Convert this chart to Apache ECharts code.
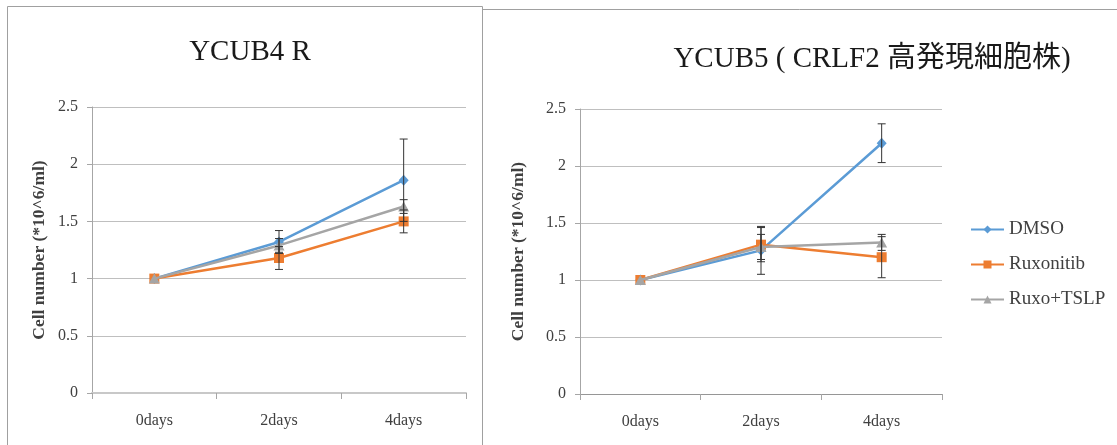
<!DOCTYPE html>
<html>
<head>
<meta charset="utf-8">
<script src="https://cdn.jsdelivr.net/npm/echarts@6/dist/echarts.min.js"></script>
<style>
html,body{margin:0;padding:0;background:#fff;}
#c{width:1117px;height:445px;}
</style>
</head>
<body>
<div id="c"></div>
<script>
const categories = ['0days', '2days', '4days'];
const seriesNames = ['DMSO', 'Ruxonitib', 'Ruxo+TSLP'];
const yTickLabels = ['0', '0.5', '1', '1.5', '2', '2.5'];

const leftDMSO = [1, 1.32, 1.86];
const leftDMSOErr = [0, 0.10, 0.36];
const leftRux = [1, 1.18, 1.50];
const leftRuxErr = [0, 0.10, 0.10];
const leftTSLP = [1, 1.29, 1.63];
const leftTSLPErr = [0, 0.06, 0.06];

const rightDMSO = [1, 1.26, 2.20];
const rightDMSOErr = [0, 0.21, 0.17];
const rightRux = [1, 1.31, 1.20];
const rightRuxErr = [0, 0.15, 0.18];
const rightTSLP = [1, 1.29, 1.33];
const rightTSLPErr = [0, 0.11, 0.07];

const colors = ['#5B9BD5', '#ED7D31', '#A5A5A5'];
const symbols = ['diamond', 'rect', 'triangle'];
const symbolSizes = [[10, 11], 10, [11, 10]];
const serif = "'Liberation Serif', 'DejaVu Serif', serif";
const titleFont = "'Liberation Serif', 'Noto Sans CJK JP', serif";

function errData(vals, errs) {
  const out = [];
  vals.forEach((v, i) => { if (errs[i] > 0) out.push([i, v - errs[i], v + errs[i]]); });
  return out;
}
function errRender(params, api) {
  const x = api.value(0);
  const lo = api.coord([x, api.value(1)]);
  const hi = api.coord([x, api.value(2)]);
  const w = 4;
  const st = { stroke: '#333', lineWidth: 1 };
  return {
    type: 'group',
    children: [
      { type: 'line', shape: { x1: hi[0], y1: hi[1], x2: lo[0], y2: lo[1] }, style: st },
      { type: 'line', shape: { x1: hi[0] - w, y1: hi[1], x2: hi[0] + w, y2: hi[1] }, style: st },
      { type: 'line', shape: { x1: lo[0] - w, y1: lo[1], x2: lo[0] + w, y2: lo[1] }, style: st }
    ]
  };
}

const sets = [
  [[leftDMSO, leftDMSOErr], [leftRux, leftRuxErr], [leftTSLP, leftTSLPErr]],
  [[rightDMSO, rightDMSOErr], [rightRux, rightRuxErr], [rightTSLP, rightTSLPErr]]
];

const series = [];
sets.forEach((set, g) => {
  set.forEach((pair, k) => {
    series.push({
      name: seriesNames[k], type: 'line', xAxisIndex: g, yAxisIndex: g,
      data: pair[0], symbol: symbols[k], symbolSize: symbolSizes[k],
      showAllSymbol: true,
      lineStyle: { color: colors[k], width: 2.5 },
      itemStyle: { color: colors[k] }, z: 3 + k, animation: false
    });
  });
  set.forEach((pair, k) => {
    series.push({
      type: 'custom', xAxisIndex: g, yAxisIndex: g, renderItem: errRender,
      data: errData(pair[0], pair[1]), z: 10, silent: true, animation: false
    });
  });
});

function makeX(idx, axisColor, axisWidth) {
  return {
    type: 'category', gridIndex: idx, data: categories, boundaryGap: true,
    axisLine: { show: true, lineStyle: { color: axisColor, width: axisWidth } },
    axisTick: { show: true, length: 6, lineStyle: { color: '#a6a6a6' }, alignWithLabel: false },
    axisLabel: { fontFamily: serif, fontSize: 16, color: '#404040', margin: 20 },
    splitLine: { show: false }
  };
}
function makeY(idx, gap) {
  return {
    type: 'value', gridIndex: idx, min: 0, max: 2.5, interval: 0.5,
    name: 'Cell number (*10^6/ml)', nameLocation: 'middle', nameGap: gap,
    nameTextStyle: { fontFamily: serif, fontSize: 17.5, fontWeight: 'bold', color: '#404040' },
    axisLine: { show: true, lineStyle: { color: '#a6a6a6' } },
    axisTick: { show: true, length: 5, lineStyle: { color: '#a6a6a6' } },
    axisLabel: {
      fontFamily: serif, fontSize: 16, color: '#404040', margin: 14,
      formatter: v => yTickLabels[Math.round(v / 0.5)]
    },
    splitLine: { show: true, lineStyle: { color: '#bfbfbf', width: 1 } }
  };
}

const chart = echarts.init(document.getElementById('c'), null, { renderer: 'canvas' });
chart.setOption({
  backgroundColor: '#fff',
  animation: false,
  graphic: [
    { type: 'polyline', silent: true, shape: { points: [[7.5, 450], [7.5, 6.5], [482.5, 6.5], [482.5, 450]] }, style: { stroke: '#a0a0a0', fill: null, lineWidth: 1 } },
    { type: 'line', silent: true, shape: { x1: 482.5, y1: 9.5, x2: 1117, y2: 9.5 }, style: { stroke: '#a0a0a0', lineWidth: 1 } }
  ],
  title: [
    { text: 'YCUB4 R', left: 250, top: 38, textAlign: 'center', padding: 0,
      textStyle: { fontFamily: titleFont, fontSize: 29, fontWeight: 'normal', color: '#1a1a1a' } },
    { text: 'YCUB5 ( CRLF2 高発現細胞株)', left: 872, top: 45, textAlign: 'center', padding: 0,
      textStyle: { fontFamily: titleFont, fontSize: 29, fontWeight: 'normal', color: '#1a1a1a' } }
  ],
  legend: {
    data: seriesNames, orient: 'vertical', left: 965, top: 215,
    itemWidth: 33, itemHeight: 10, itemGap: 16,
    textStyle: { fontFamily: serif, fontSize: 19, color: '#404040' }
  },
  grid: [
    { left: 92, top: 107, width: 374, height: 286 },
    { left: 580, top: 109, width: 362, height: 285 }
  ],
  xAxis: [makeX(0, '#c8c8c8', 2), makeX(1, '#969696', 1)],
  yAxis: [makeY(0, 44), makeY(1, 53)],
  series: series
});
</script>
</body>
</html>
